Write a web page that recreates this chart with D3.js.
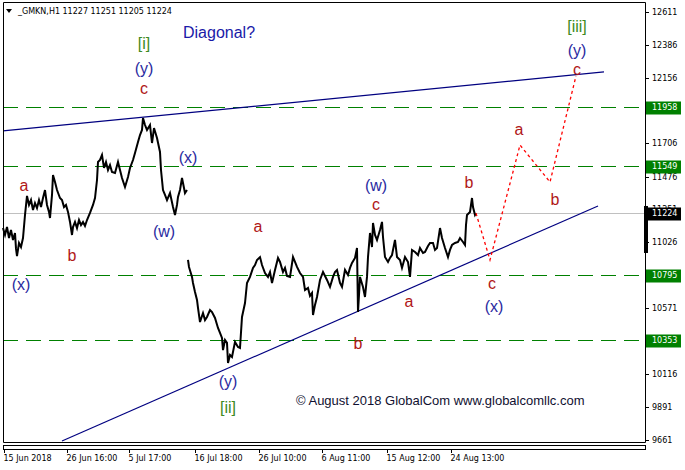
<!DOCTYPE html>
<html><head><meta charset="utf-8">
<script src="https://cdn.jsdelivr.net/npm/d3@7"></script>
<style>
html,body{margin:0;padding:0;background:#fff;}
svg{display:block;}
</style></head>
<body>
<script>
// ---------- data ----------
const priceBars = [0,2,4,6,8,10,12,13,14,16,18,20,22,24,26,28,30,32,34,36,38,40,42,44,46,47,49,50,52,54,57,59,61,63,65,67,69,70,72,74,76,78,80,82,84,87,90,92,94,95,97,99,101,103,105,107,109,112,115,117,119,122,125,127,130,132,135,137,139,140,142,144,147,149,151,154,157,158,159,160,162,164,167,170,172,174,175,177,179,181,182,184,
 184.5,
 185,186,189,190,192,194,195,197,200,202,204,207,209,212,215,217,219,220,222,224,225,227,229,232,235,237,239,242,244,247,250,252,254,257,259,262,265,267,269,272,275,277,280,282,284,287,290,292,294,297,300,302,305,307,309,310,312,314,317,320,322,324,327,330,332,334,337,339,342,345,347,349,352,354,355,356,357,360,362,364,365,367,369,370,372,374,377,379,380,382,385,387,389,392,394,397,399,402,405,407,409,412,415,417,420,422,425,427,430,432,434,437,439,442,445,447,449,452,455,457,460,462,463,464,467,469,470,472,473];
const prices = [11122,11074,11129,11053,11108,11040,11088,10980,10929,11019,10991,11053,11212,11343,11281,11315,11246,11294,11260,11315,11267,11329,11384,11281,11233,11191,11350,11487,11439,11384,11329,11315,11267,11281,11233,11164,11074,11129,11164,11122,11177,11143,11164,11136,11177,11226,11281,11329,11453,11577,11591,11625,11536,11577,11522,11556,11508,11501,11577,11522,11467,11405,11474,11536,11591,11639,11715,11763,11798,11880,11832,11798,11832,11708,11811,11742,11646,11522,11453,11384,11350,11315,11363,11267,11212,11281,11336,11384,11467,11398,11363,11384,
 null,
 10902,10854,10785,10743,10681,10626,10571,10474,10536,10488,10509,10557,10543,10502,10433,10399,10364,10281,10350,10330,10192,10247,10233,10337,10302,10295,10509,10605,10743,10785,10847,10867,10902,10922,10867,10812,10785,10819,10743,10833,10916,10888,10819,10847,10791,10785,10922,10888,10854,10812,10785,10695,10709,10654,10674,10523,10592,10647,10764,10819,10791,10764,10716,10785,10819,10833,10743,10716,10833,10798,10847,10881,10916,10984,10543,10661,10785,10716,10647,10785,10922,11088,10991,11157,11074,11040,11108,11164,11060,10922,10888,10916,10936,11040,10922,10902,10847,10922,10888,10785,10971,10957,10936,10984,10950,10957,10998,11019,11019,10971,10984,11122,11053,10984,10922,10971,11005,11019,11026,11053,11026,11005,11143,11212,11233,11329,11267,11212,11224];

const projBars = [473,487,517,547,573];
const projPrices = [11224,10902,11694,11439,12170];

const upperLineBars = [0,601];
const upperLinePrices = [11791,12198];
const lowerLineBars = [59,595];
const lowerLinePrices = [9654,11274];

const levels = [11958,11549,10795,10353];
const currentPrice = 11224;
const rangeMarker = [10950,11274];

const yTicks = [12611,12386,12156,11931,11706,11476,11251,11026,10571,10116,9891,9661];
const xTickBars = [1,64,126,192,256,319,384,448];
const xTickLabels = ["15 Jun 2018","26 Jun 16:00","5 Jul 17:00","16 Jul 18:00","26 Jul 10:00","6 Aug 11:00","15 Aug 12:00","24 Aug 13:00"];

const waveText  = ["[i]","(y)","c","a","b","(x)","(x)","(w)","a","(y)","[ii]","(w)","c","b","a","b","c","(x)","a","b","c","(y)","[iii]"];
const waveBar   = [141,141,141,21,69,18,185,161,255,225,225,373,373,466,406,355,489,491,516,552,574,574,574];
const wavePrice = [12391,12225,12087,11412,10936,10736,11605,11095,11136,10061,9882,11412,11281,11433,10619,10323,10743,10578,11798,11322,12218,12349,12508];
const waveKind  = ["g","b","r","r","r","b","b","b","r","b","g","b","r","r","r","r","r","b","r","r","r","b","g"];

const header = "_GMKN,H1  11227 11251 11205 11224";
const titleText = "Diagonal?";
const copyright = "© August 2018 GlobalCom www.globalcomllc.com";

// ---------- drawing ----------
const W = 685, H = 470;
const L = 3, R = 645, T = 2, B = 442;
const svg = d3.select("body").append("svg").attr("width", W).attr("height", H);

const x = d3.scaleLinear().domain([0, 642]).range([L, R]);
const y = d3.scaleLinear().domain([9661, 12611]).range([440, 12]);

const smallFont = "DejaVu Sans, Liberation Sans, sans-serif";
const bigFont = "Liberation Sans, Arial, sans-serif";

// green dashed levels
svg.append("g").selectAll("line").data(levels).join("line")
  .attr("x1", L).attr("x2", R)
  .attr("y1", d => Math.round(y(d)) + 0.5).attr("y2", d => Math.round(y(d)) + 0.5)
  .attr("stroke", "#008000").attr("stroke-width", 1.2).attr("stroke-dasharray", "15,8");

// current price line
svg.append("line").attr("x1", L).attr("x2", R)
  .attr("y1", Math.round(y(currentPrice)) + 0.5).attr("y2", Math.round(y(currentPrice)) + 0.5)
  .attr("stroke", "#c0c0c0").attr("stroke-width", 1);

// trend lines
const tl = (bars, pr) => d3.line().x((d,i) => x(bars[i])).y((d,i) => y(pr[i]))(bars);
svg.append("path").attr("d", tl(upperLineBars, upperLinePrices)).attr("stroke", "#000080").attr("stroke-width", 1.2).attr("fill", "none");
svg.append("path").attr("d", tl(lowerLineBars, lowerLinePrices)).attr("stroke", "#000080").attr("stroke-width", 1.2).attr("fill", "none");

// price
const priceLine = d3.line().defined((d,i) => prices[i] !== null)
  .x((d,i) => x(priceBars[i])).y((d,i) => y(prices[i]));
svg.append("path").attr("d", priceLine(priceBars))
  .attr("stroke", "#000").attr("stroke-width", 2).attr("fill", "none").attr("stroke-linejoin", "miter");

// projection
svg.append("path").attr("d", tl(projBars, projPrices))
  .attr("stroke", "#ff0000").attr("stroke-width", 1.3).attr("fill", "none").attr("stroke-dasharray", "3,3");

// wave labels
const colors = {r: "#b01818", b: "#2a2aa0", g: "#3d8a22"};
svg.append("g").selectAll("text").data(waveText).join("text")
  .attr("x", (d,i) => x(waveBar[i])).attr("y", (d,i) => y(wavePrice[i]))
  .attr("text-anchor", "middle").attr("dominant-baseline", "central")
  .attr("font-family", bigFont).attr("font-size", 16)
  .attr("fill", (d,i) => colors[waveKind[i]]).text(d => d);

svg.append("text").attr("x", 183).attr("y", 32).attr("dominant-baseline", "central")
  .attr("font-family", bigFont).attr("font-size", 16).attr("fill", "#1a1aa8").text(titleText);

svg.append("text").attr("x", 296).attr("y", 400).attr("dominant-baseline", "central")
  .attr("font-family", bigFont).attr("font-size", 13).attr("fill", "#101030").text(copyright);

// frame
svg.append("path").attr("d", `M${L+0.5},${B+0.5}V${T+0.5}H${R+0.5}V${B+0.5}H${L+0.5}`)
  .attr("stroke", "#000").attr("fill", "none");
svg.append("rect").attr("x", L+0.5).attr("y", 445.5).attr("width", R-L).attr("height", 4)
  .attr("stroke", "#000").attr("fill", "none");

// range marker on axis
svg.append("rect").attr("x", R-1).attr("width", 4)
  .attr("y", y(rangeMarker[1])).attr("height", y(rangeMarker[0]) - y(rangeMarker[1])).attr("fill", "#000");

// right axis
const ya = svg.append("g");
yTicks.forEach(v => {
  const yy = Math.round(y(v)) + 0.5;
  ya.append("line").attr("x1", R).attr("x2", R+4).attr("y1", yy).attr("y2", yy).attr("stroke", "#000");
  ya.append("text").attr("x", 652).attr("y", yy).attr("dominant-baseline", "central")
    .attr("font-family", smallFont).attr("font-size", 8).attr("fill", "#000").text(v);
});
levels.forEach(v => {
  const yy = Math.round(y(v)) + 0.5;
  ya.append("rect").attr("x", R+1).attr("y", yy-6).attr("width", 35).attr("height", 13).attr("fill", "#008000");
  ya.append("text").attr("x", 652).attr("y", yy).attr("dominant-baseline", "central")
    .attr("font-family", smallFont).attr("font-size", 8).attr("fill", "#fff").text(v);
});
{
  const yy = Math.round(y(currentPrice)) + 0.5;
  ya.append("rect").attr("x", R+1).attr("y", yy-6).attr("width", 35).attr("height", 13).attr("fill", "#000");
  ya.append("text").attr("x", 652).attr("y", yy).attr("dominant-baseline", "central")
    .attr("font-family", smallFont).attr("font-size", 8).attr("fill", "#fff").text(currentPrice);
}

// bottom axis
const xa = svg.append("g");
xTickBars.forEach((b,i) => {
  const xx = Math.round(x(b)) + 0.5;
  xa.append("line").attr("x1", xx).attr("x2", xx).attr("y1", 449).attr("y2", 453).attr("stroke", "#000");
  xa.append("text").attr("x", xx - 1).attr("y", 461)
    .attr("font-family", smallFont).attr("font-size", 8).attr("fill", "#000").text(xTickLabels[i]);
});

// header
svg.append("path").attr("d", "M6,9 L12,9 L9,13 Z").attr("fill", "#000");
svg.append("text").attr("x", 18).attr("y", 14)
  .attr("font-family", smallFont).attr("font-size", 8).attr("fill", "#000").text(header);
</script>
</body></html>
